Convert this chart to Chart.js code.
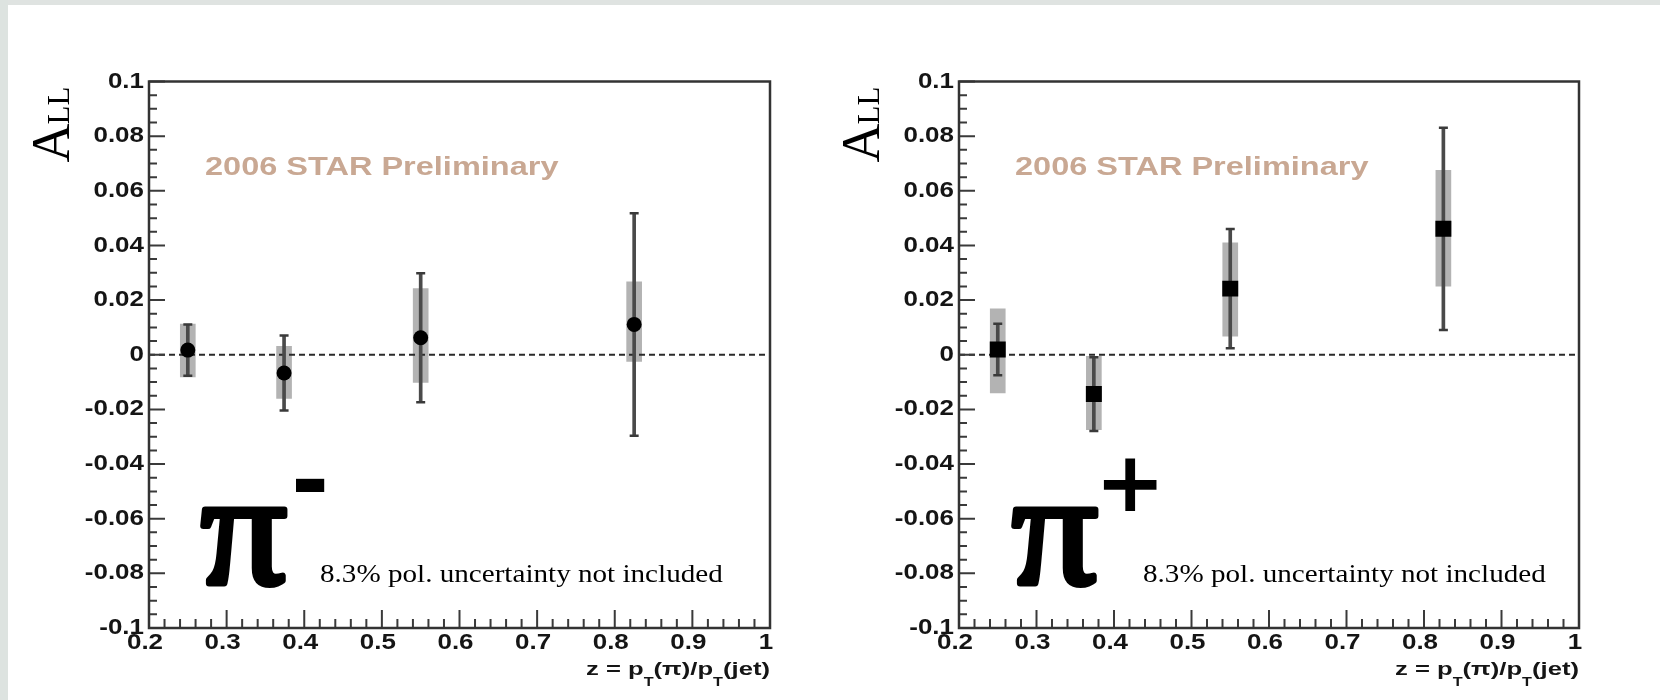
<!DOCTYPE html>
<html>
<head>
<meta charset="utf-8">
<script src="https://cdn.jsdelivr.net/npm/chart.js@4/dist/chart.umd.min.js"></script>
<style>
  html, body { margin: 0; padding: 0; background: #fff; }
  #page { position: relative; width: 1660px; height: 700px; overflow: hidden; background: #fff; }
  #page canvas { position: absolute; top: 0; }
  #cMinus { left: 0; }
  #cPlus { left: 830px; }
  .edge-top { position: absolute; left: 0; top: 0; width: 1660px; height: 5px; background: #dfe3e1; }
  .edge-left { position: absolute; left: 0; top: 0; width: 8px; height: 700px; background: #dde3e0; }
</style>
</head>
<body>
<div id="page">
  <canvas id="cMinus" width="830" height="700"></canvas>
  <canvas id="cPlus" width="830" height="700"></canvas>
  <div class="edge-top"></div>
  <div class="edge-left"></div>
</div>
<script>
// z = pT(pi)/pT(jet) bin centres (same for both charges)
const zBins = [0.25, 0.374, 0.55, 0.825];

// pi- : A_LL, statistical error, systematic band up / down
const allMinus   = [0.0017, -0.0067, 0.0062, 0.0111];
const statMinus  = [0.0094, 0.0137, 0.0236, 0.0407];
const sysUpMinus = [0.0095, 0.0098, 0.0180, 0.0156];
const sysDnMinus = [0.0098, 0.0093, 0.0163, 0.0135];

// pi+
const allPlus   = [0.0019, -0.0144, 0.0242, 0.0461];
const statPlus  = [0.0094, 0.0135, 0.0218, 0.0370];
const sysUpPlus = [0.0149, 0.0138, 0.0168, 0.0214];
const sysDnPlus = [0.0159, 0.0130, 0.0174, 0.0210];

// axes
const zRange = [0.2, 1];
const aRange = [-0.1, 0.1];
const zTicks = [0.2, 0.3, 0.4, 0.5, 0.6, 0.7, 0.8, 0.9, 1];
const zTickLabels = ['0.2', '0.3', '0.4', '0.5', '0.6', '0.7', '0.8', '0.9', '1'];
const aTicks = [-0.1, -0.08, -0.06, -0.04, -0.02, 0, 0.02, 0.04, 0.06, 0.08, 0.1];
const aTickLabels = ['-0.1', '-0.08', '-0.06', '-0.04', '-0.02', '0', '0.02', '0.04', '0.06', '0.08', '0.1'];

const SANS = '"Liberation Sans", Arial, sans-serif';
const SERIF = '"Liberation Serif", "Times New Roman", serif';

// text squeezed/stretched horizontally like the scanned ROOT output
function stretchText(ctx, str, x, y, font, color, sx, align, baseline, heavy) {
  ctx.save();
  ctx.font = font;
  ctx.fillStyle = color;
  ctx.textAlign = align || 'left';
  ctx.textBaseline = baseline || 'alphabetic';
  ctx.translate(x, y);
  ctx.scale(sx, 1);
  ctx.fillText(str, 0, 0);
  if (heavy) {
    ctx.strokeStyle = color;
    ctx.lineWidth = heavy;
    ctx.lineJoin = 'round';
    ctx.strokeText(str, 0, 0);
  }
  ctx.restore();
}

// ROOT-like frame: inward ticks, labels, titles and the slide annotations
const rootFrame = {
  id: 'rootFrame',
  afterDatasetsDraw(chart, args, opts) {
    const ctx = chart.ctx;
    const a = chart.chartArea;
    const x = chart.scales.x, y = chart.scales.y;
    ctx.save();
    ctx.strokeStyle = '#3a3a3a';
    ctx.lineWidth = 2;
    ctx.beginPath();
    // y: major every 0.02, 4 subdivisions
    for (let i = 0; i <= 40; i++) {
      const py = y.getPixelForValue(aRange[0] + i * 0.005);
      const len = i % 4 === 0 ? 16 : 8;
      ctx.moveTo(a.left, py);
      ctx.lineTo(a.left + len, py);
    }
    // x: major every 0.1, 5 subdivisions
    for (let i = 0; i <= 40; i++) {
      const px = x.getPixelForValue(zRange[0] + i * 0.02);
      const len = i % 5 === 0 ? 18 : 9;
      ctx.moveTo(px, a.bottom);
      ctx.lineTo(px, a.bottom - len);
    }
    ctx.stroke();
    ctx.lineWidth = 2.5;
    ctx.strokeStyle = '#333';
    ctx.strokeRect(a.left, a.top, a.right - a.left, a.bottom - a.top);
    ctx.restore();

    const tickFont = 'bold 22px ' + SANS;
    aTicks.forEach((v, i) => {
      stretchText(ctx, aTickLabels[i], a.left - 5, y.getPixelForValue(v), tickFont, '#151515', 1.18, 'right', 'middle');
    });
    zTicks.forEach((v, i) => {
      stretchText(ctx, zTickLabels[i], x.getPixelForValue(v) - 4, a.bottom + 4, tickFont, '#151515', 1.18, 'center', 'top');
    });

    // x title, right aligned to the frame: z = p_T(pi)/p_T(jet)
    const parts = [['z = p', 0], ['T', 1], ['(\u03c0)/p', 0], ['T', 1], ['(jet)', 0]];
    const mainFont = 'bold 19px ' + SANS, subFont = 'bold 12px ' + SANS;
    const sx = 1.35;
    let cx = a.right;
    for (let k = parts.length - 1; k >= 0; k--) {
      const [s, sub] = parts[k];
      ctx.font = sub ? subFont : mainFont;
      cx -= ctx.measureText(s).width * sx;
      stretchText(ctx, s, cx, a.bottom + (sub ? 58 : 47), sub ? subFont : mainFont, '#151515', sx);
    }

    // A_LL, rotated
    ctx.save();
    ctx.translate(a.left - 80, a.top + 81);
    ctx.rotate(-Math.PI / 2);
    ctx.fillStyle = '#000';
    ctx.textBaseline = 'alphabetic';
    ctx.font = '54px ' + SERIF;
    ctx.fillText('A', 0, 0);
    const wA = ctx.measureText('A').width;
    ctx.font = '31px ' + SERIF;
    ctx.fillText('LL', wA - 1, 0);
    ctx.restore();

    // STAR label
    stretchText(ctx, '2006 STAR Preliminary', a.left + 56, a.top + 93, 'bold 26px ' + SANS, '#c9a893', 1.25);

    // particle symbol with charge
    stretchText(ctx, '\u03c0', a.left + opts.piDx, a.bottom - 45, '162px ' + SERIF, '#000', 1.05, 'left', 'alphabetic', 6);
    if (opts.charge === '-') {
      stretchText(ctx, '-', a.left + 142, a.bottom - 116, 'bold 92px "DejaVu Sans"', '#000', 1.0);
    } else {
      stretchText(ctx, '+', a.left + 136, a.bottom - 117, 'bold 84px "DejaVu Sans"', '#000', 1.0);
    }

    stretchText(ctx, '8.3% pol. uncertainty not included', a.left + opts.polDx, a.bottom - 46, '26px ' + SERIF, '#000', 1.12);
  }
};

function buildDatasets(vals, stat, sysUp, sysDn, marker) {
  const points = zBins.map((z, i) => ({ x: z, y: vals[i] }));
  const caps = zBins.flatMap((z, i) => [{ x: z, y: vals[i] + stat[i] }, { x: z, y: vals[i] - stat[i] }]);
  const statBars = zBins.map((z, i) => ({ x: z, y: [vals[i] - stat[i], vals[i] + stat[i]] }));
  const sysBands = zBins.map((z, i) => ({ x: z, y: [vals[i] - sysDn[i], vals[i] + sysUp[i]] }));
  return [
    { type: 'scatter', data: points, pointStyle: marker.style, pointRadius: marker.r,
      backgroundColor: '#000', borderColor: '#000', borderWidth: 0, order: 0 },
    { type: 'scatter', data: caps, pointStyle: 'line', pointRadius: 4.5,
      borderColor: '#3a3a3a', borderWidth: 2.5, order: 1 },
    { type: 'bar', data: statBars, barThickness: 3, backgroundColor: '#4a4a4a',
      borderWidth: 0, grouped: false, order: 2 },
    { type: 'line', data: [{ x: zRange[0], y: 0 }, { x: zRange[1], y: 0 }], borderDash: [6, 4],
      borderColor: '#2a2a2a', borderWidth: 2.2, pointRadius: 0, order: 3 },
    { type: 'bar', data: sysBands, barThickness: 15, backgroundColor: 'rgba(150,150,150,0.72)',
      borderWidth: 0, grouped: false, order: 4 }
  ];
}

function makeChart(id, datasets, frameLeft, padRight, textOpts) {
  return new Chart(document.getElementById(id), {
    type: 'scatter',
    data: { datasets: datasets },
    options: {
      responsive: false,
      animation: false,
      events: [],
      layout: { padding: { left: 0, top: 81.5, right: padRight, bottom: 62 } },
      plugins: { legend: { display: false }, tooltip: { enabled: false }, rootFrame: textOpts },
      scales: {
        x: {
          type: 'linear', min: zRange[0], max: zRange[1], offset: false,
          grid: { display: false, drawTicks: false }, border: { display: false },
          ticks: { display: false },
          afterFit: s => { s.height = 10; }
        },
        y: {
          type: 'linear', min: aRange[0], max: aRange[1],
          grid: { display: false, drawTicks: false }, border: { display: false },
          ticks: { display: false },
          afterFit: s => { s.width = frameLeft; }
        }
      }
    },
    plugins: [rootFrame]
  });
}

makeChart('cMinus', buildDatasets(allMinus, statMinus, sysUpMinus, sysDnMinus, { style: 'circle', r: 7.5 }),
  149, 60, { charge: '-', piDx: 52, polDx: 171 });
makeChart('cPlus', buildDatasets(allPlus, statPlus, sysUpPlus, sysDnPlus, { style: 'rect', r: 11.3 }),
  129, 81, { charge: '+', piDx: 53, polDx: 184 });
</script>
</body>
</html>
